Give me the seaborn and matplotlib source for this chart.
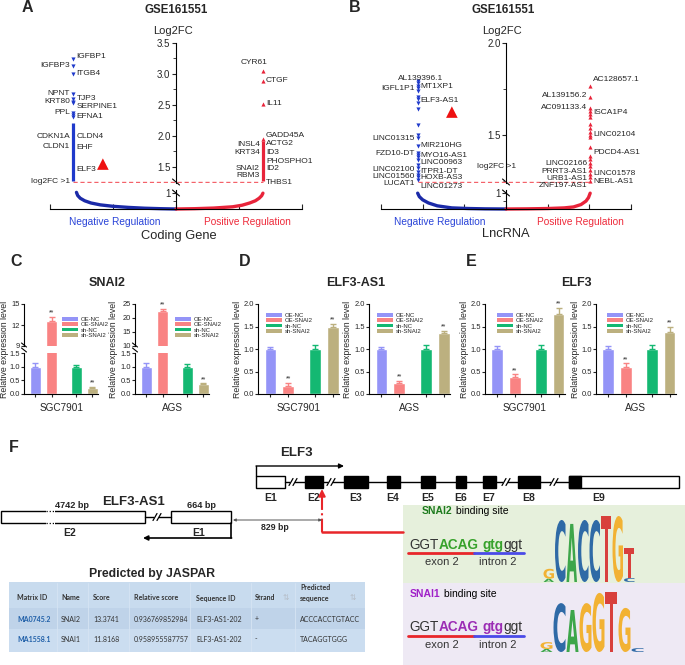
import numpy as np
import pandas as pd
import matplotlib
matplotlib.use("Agg")
import matplotlib.pyplot as plt
import seaborn as sns
from matplotlib.patches import Rectangle, PathPatch, Patch
from matplotlib.textpath import TextPath
from matplotlib.font_manager import FontProperties
from matplotlib.transforms import Affine2D

W, H = 685, 665

# ---------------- A: coding genes (GSE161551, log2FC) ----------------
a_neg_pts = [3.24, 3.13, 3.00, 2.67, 2.59, 2.55, 2.53, 2.37, 2.34, 2.31]
a_neg_dense = [1.27, 2.21]
a_neg_names = ["IGFBP1", "IGFBP3", "ITGB4", "NPNT", "TJP3", "KRT80", "SERPINE1",
               "PPL", "EFNA1", "CDKN1A", "CLDN4", "CLDN1", "EHF", "ELF3"]
a_neg_lab_y = [3.29, 3.13, 3.00, 2.68, 2.60, 2.55, 2.47, 2.37, 2.31, 1.99, 1.99, 1.83, 1.81, 1.45]
a_neg_side = ["R", "L", "R", "L", "R", "L", "R", "L", "R", "L", "R", "L", "R", "R"]
a_pos_pts = [3.05, 2.89, 2.52, 1.95]
a_pos_dense = [1.27, 1.91]
a_pos_names = ["CYR61", "CTGF", "IL11", "GADD45A", "INSL4", "ACTG2", "KRT34", "ID3",
               "PHOSPHO1", "SNAI2", "ID2", "RBM3", "THBS1"]
a_pos_lab_y = [3.18, 2.89, 2.52, 2.00, 1.855, 1.87, 1.73, 1.73, 1.58, 1.48, 1.47, 1.355, 1.24]
a_pos_side = ["T", "R", "R", "R", "L", "R", "L", "R", "R", "L", "R", "L", "R"]
a_cut = 1.26
a_curve_neg_x = [-1.58, -1.56, -1.52, -1.45, -1.35, -1.2, -1.0, -0.75, -0.5, -0.25, 0.0]
a_curve_neg_y = [1.05, 0.85, 0.68, 0.52, 0.38, 0.26, 0.17, 0.10, 0.05, 0.02, 0.0]
a_curve_pos_x = [0.0, 0.3, 0.6, 0.9, 1.05, 1.17, 1.26, 1.32, 1.36, 1.38]
a_curve_pos_y = [0.0, 0.02, 0.06, 0.14, 0.24, 0.38, 0.52, 0.68, 0.84, 1.0]

# ---------------- B: lncRNA ----------------
b_neg_pts = [1.793, 1.783, 1.766, 1.755, 1.739, 1.707, 1.696, 1.674, 1.641, 1.554, 1.50,
             1.484, 1.44, 1.402, 1.39, 1.38, 1.364, 1.337, 1.32, 1.30, 1.285, 1.27, 1.255]
b_neg_names = ["AL139396.1", "IGFL1P1", "MT1XP1", "ELF3-AS1", "LINC01315", "MIR210HG",
               "FZD10-DT", "MYO16-AS1", "LINC00963", "LINC02100", "ITPR1-DT", "LINC01560",
               "HOXB-AS3", "LUCAT1", "LINC01273"]
b_neg_lab_y = [1.806, 1.752, 1.761, 1.69, 1.48, 1.442, 1.397, 1.391, 1.348, 1.315, 1.304,
               1.273, 1.268, 1.237, 1.219]
b_neg_side = ["C", "L", "R", "R", "L", "R", "L", "R", "R", "L", "R", "L", "R", "L", "R"]
b_pos_pts = [1.766, 1.707, 1.647, 1.63, 1.614, 1.598, 1.56, 1.538, 1.516, 1.50, 1.489,
             1.435, 1.386, 1.37, 1.35, 1.33, 1.31, 1.29, 1.27, 1.25]
b_pos_names = ["AC128657.1", "AL139156.2", "AC091133.4", "ISCA1P4", "LINC02104", "PDCD4-AS1",
               "LINC02166", "PRRT3-AS1", "LINC01578", "URB1-AS1", "NEBL-AS1", "ZNF197-AS1"]
b_pos_lab_y = [1.80, 1.712, 1.648, 1.62, 1.505, 1.404, 1.346, 1.304, 1.292, 1.265, 1.246, 1.224]
b_pos_side = ["R", "L", "L", "R", "R", "R", "L", "L", "R", "L", "R", "L"]
b_cut = 1.245
b_curve_neg_x = [-2.12, -2.08, -2.0, -1.86, -1.65, -1.3, -0.9, -0.5, 0.0]
b_curve_neg_y = [1.0, 0.78, 0.58, 0.38, 0.2, 0.07, 0.03, 0.01, 0.0]
b_curve_pos_x = [0.0, 0.5, 1.0, 1.4, 1.62, 1.8, 1.92, 1.98, 2.02]
b_curve_pos_y = [0.0, 0.01, 0.03, 0.07, 0.13, 0.28, 0.5, 0.72, 1.0]

# ---------------- C-E: qPCR bars ----------------
bar_groups = ["OE-NC", "OE-SNAI2", "sh-NC", "sh-SNAI2"]
snai2_sgc, snai2_sgc_err = [1.0, 12.6, 1.0, 0.22], [0.15, 0.55, 0.06, 0.03]
snai2_ags, snai2_ags_err = [1.0, 22.4, 1.0, 0.35], [0.14, 0.8, 0.1, 0.04]
as1_sgc, as1_sgc_err = [1.0, 0.18, 1.0, 1.48], [0.05, 0.07, 0.08, 0.08]
as1_ags, as1_ags_err = [1.0, 0.25, 1.0, 1.35], [0.05, 0.04, 0.08, 0.06]
elf3_sgc, elf3_sgc_err = [1.0, 0.38, 1.0, 1.78], [0.06, 0.06, 0.08, 0.14]
elf3_ags, elf3_ags_err = [1.0, 0.59, 1.0, 1.38], [0.06, 0.09, 0.08, 0.11]
star_idx = [1, 3]

# ---------------- F ----------------
elf3_exons = ["E1", "E2", "E3", "E4", "E5", "E6", "E7", "E8", "E9"]
snai2_logo = [[("A", 0.1), ("G", 0.3)], [("C", 1.88)], [("A", 1.76)], [("C", 1.88)],
              [("C", 1.88)], [("T", 2.0)], [("G", 2.0)], [("C", 0.12), ("T", 0.9)]]
snai1_logo = [[("A", 0.1), ("G", 0.23)], [("C", 1.63)], [("A", 1.4)], [("G", 1.63)],
              [("G", 1.97)], [("T", 2.0)], [("G", 1.47)], [("C", 0.13)]]
jaspar_cols = ["Matrix ID", "Name", "Score", "Relative score", "Sequence ID", "Strand",
               "Predicted\nsequence"]
jaspar_rows = [["MA0745.2", "SNAI2", "13.3741", "0.936769852984", "ELF3-AS1-202", "+", "ACCCACCTGTACC"],
               ["MA1558.1", "SNAI1", "11.8168", "0.958955587757", "ELF3-AS1-202", "-", "TACAGGTGGG"]]

# ---------------- style ----------------
BLUE, RED, CBLUE = "#1f3acb", "#e8243a", "#1b2aa8"
bar_colors = ["#9494f7", "#f98383", "#14b872", "#bcb07f"]
GENE_FAM = ["Liberation Sans", "DejaVu Sans"]
GENE_FS = 6.0

sns.set_theme(style="ticks")
plt.rcParams["font.family"] = ["Liberation Sans", "DejaVu Sans"]
plt.rcParams["axes.linewidth"] = 0.8
plt.rcParams["axes.edgecolor"] = "black"

fig = plt.figure(figsize=(W / 100, H / 100), dpi=100)
ov = fig.add_axes([0, 0, 1, 1])
ov.set_xlim(0, W)
ov.set_ylim(H, 0)
ov.axis("off")


def px_axes(x0, y0, x1, y1):
    ax = fig.add_axes([x0 / W, 1 - y1 / H, (x1 - x0) / W, (y1 - y0) / H])
    ax.patch.set_alpha(0)
    return ax


def add_labels(ax, x, names, ys, sides):
    for n, y, s in zip(names, ys, sides):
        off, ha = {"L": ((-2.2, 0), "right"), "R": ((2.2, 0), "left"),
                   "T": ((3.0, 0), "right"), "C": ((2.0, 0), "center")}[s]
        ax.annotate(n, (x, y), xytext=off, textcoords="offset points", ha=ha, va="center",
                    fontsize=GENE_FS, family=GENE_FAM, annotation_clip=False)


def strip_panel(x0, x1, xlim, ylim, major, minor, nx, px, npts, ndense, ppts, pdense,
                nlab, plab, cut, cneg, cpos):
    up = px_axes(x0, 43, x1, 183)
    lo = px_axes(x0, 190, x1, 209)
    for ax in (up, lo):
        for s in ("top", "right"):
            ax.spines[s].set_visible(False)
        ax.spines["left"].set_position(("data", 0))
    up.spines["bottom"].set_visible(False)

    sns.scatterplot(x=np.full(len(npts), nx), y=npts, marker="v", color=BLUE, s=9,
                    linewidth=0, ax=up, legend=False)
    sns.scatterplot(x=np.full(len(ppts), px), y=ppts, marker="^", color=RED, s=9,
                    linewidth=0, ax=up, legend=False)
    if ndense:
        up.vlines(nx, *ndense, color=BLUE, lw=2.3)
    if pdense:
        up.vlines(px, *pdense, color=RED, lw=2.3)
    up.hlines(cut, nx, px, colors="#f4626a", linestyles=(0, (3, 2)), lw=1.0)
    add_labels(up, nx, *nlab)
    add_labels(up, px, *plab)
    up.set_xlim(*xlim)
    up.set_ylim(*ylim)
    up.set_xticks([])
    up.set_yticks(major)
    up.set_yticklabels([f"{v:.1f}" for v in major])
    up.set_yticks(minor, minor=True)
    up.tick_params(axis="y", which="major", length=3, width=0.8, labelsize=7, pad=1)
    up.tick_params(axis="y", which="minor", length=2, width=0.6)
    up.set_xlabel("")
    up.set_ylabel("")

    sns.lineplot(x=cneg[0], y=cneg[1], sort=False, estimator=None, color=CBLUE, lw=2.4, ax=lo)
    sns.lineplot(x=cpos[0], y=cpos[1], sort=False, estimator=None, color=RED, lw=2.4, ax=lo)
    for ln in lo.lines:
        ln.set_clip_on(False)
        ln.set_solid_capstyle("round")
    lo.set_xlim(*xlim)
    lo.set_ylim(0, 1.2)
    lo.set_yticks([1])
    lo.set_yticklabels(["1"])
    lo.set_yticks([0.5], minor=True)
    lo.set_xticks(np.arange(xlim[0], xlim[1] + 1))
    lo.set_xticklabels([])
    lo.tick_params(axis="x", direction="in", length=3.5, width=0.8)
    lo.tick_params(axis="y", which="major", length=3, width=0.8, labelsize=7, pad=1)
    lo.tick_params(axis="y", which="minor", length=2, width=0.6)
    lo.set_xlabel("")
    lo.set_ylabel("")
    return up, lo


# ---- A ----
upA, loA = strip_panel(50, 302, (-2, 2), (1.24, 3.5), [1.5, 2.0, 2.5, 3.0, 3.5],
                       [1.75, 2.25, 2.75, 3.25], -1.63, 1.38, a_neg_pts, a_neg_dense,
                       a_pos_pts, a_pos_dense, (a_neg_names, a_neg_lab_y, a_neg_side),
                       (a_pos_names, a_pos_lab_y, a_pos_side), a_cut,
                       (a_curve_neg_x, a_curve_neg_y), (a_curve_pos_x, a_curve_pos_y))
upA.annotate("log2FC >1", (-1.63, a_cut), xytext=(-2.2, 0), textcoords="offset points",
             ha="right", va="center", fontsize=GENE_FS, family=GENE_FAM, annotation_clip=False)
upA.annotate("\u25B2", (-1.63, 1.45), xytext=(21, 4.5), textcoords="offset points",
             ha="center", va="center", color="#ee1111", fontsize=11, family="DejaVu Sans")

# ---- B ----
upB, loB = strip_panel(381, 631, (-3, 3), (1.239, 2.0), [1.5, 2.0], [1.25, 1.75],
                       -2.12, 2.02, b_neg_pts, None, b_pos_pts, None,
                       (b_neg_names, b_neg_lab_y, b_neg_side),
                       (b_pos_names, b_pos_lab_y, b_pos_side), b_cut,
                       (b_curve_neg_x, b_curve_neg_y), (b_curve_pos_x, b_curve_pos_y))
upB.annotate("\u25B2", (-2.12, 1.69), xytext=(24.5, -8.6), textcoords="offset points",
             ha="center", va="center", color="#ee1111", fontsize=11, family="DejaVu Sans")
ov.text(497, 166, "log2FC >1", fontsize=GENE_FS, family=GENE_FAM, ha="center", va="center")

for sx in (176, 506):
    for yy in (182, 193):
        ov.plot([sx - 3.5, sx + 3.5], [yy - 3, yy + 3], color="black", lw=0.8)

for x, lab in ((27, "A"), (355, "B"), (16, "C"), (245, "D"), (471, "E"), (14, "F")):
    y = 8 if lab in "AB" else (262 if lab in "CDE" else 448)
    ov.text(x, y, lab, fontsize=11.5, fontweight="bold", ha="center", va="center")
ov.text(176, 10, "GSE161551", fontsize=8.3, fontweight="bold", ha="center", va="center")
ov.text(503, 10, "GSE161551", fontsize=8.3, fontweight="bold", ha="center", va="center")
ov.text(173, 31, "Log2FC", fontsize=8, ha="center", va="center")
ov.text(502, 31, "Log2FC", fontsize=8, ha="center", va="center")
ov.text(115, 222, "Negative Regulation", color="#2a44d8", fontsize=7.3, ha="center", va="center")
ov.text(247, 222, "Positive Regulation", color="#ee2b3b", fontsize=7.3, ha="center", va="center")
ov.text(440, 222, "Negative Regulation", color="#2a44d8", fontsize=7.3, ha="center", va="center")
ov.text(580, 222, "Positive Regulation", color="#ee2b3b", fontsize=7.3, ha="center", va="center")
ov.text(179, 236, "Coding Gene", fontsize=9.3, ha="center", va="center")
ov.text(506, 234, "LncRNA", fontsize=9.3, ha="center", va="center")

# ---------------- bar panels ----------------
bar_pos = [0, 1, 2.5, 3.5]


def bars(ax, vals, errs):
    df = pd.DataFrame({"pos": bar_pos, "val": vals, "grp": bar_groups})
    sns.barplot(data=df, x="pos", y="val", hue="grp", hue_order=bar_groups,
                palette=bar_colors, native_scale=True, dodge=False, width=0.66,
                saturation=1, errorbar=None, legend=False, ax=ax)
    for p, v, e, c in zip(bar_pos, vals, errs, bar_colors):
        ax.errorbar(p, v, yerr=[[0], [e]], fmt="none", ecolor=c, elinewidth=1,
                    capsize=2.2, capthick=1)
    for i in star_idx:
        ax.annotate("**", (bar_pos[i], vals[i] + errs[i]), xytext=(0, 0.2),
                    textcoords="offset points", ha="center", va="bottom", fontsize=5,
                    annotation_clip=True)


def fmt_bar(ax, ylim, ticks, labels, bottom=True, xlabel=""):
    for s in ("top", "right"):
        ax.spines[s].set_visible(False)
    ax.set_xlim(-0.7, 3.85)
    ax.set_ylim(*ylim)
    ax.set_yticks(ticks)
    ax.set_yticklabels(labels)
    ax.tick_params(axis="y", length=2.2, width=0.8, labelsize=5.4, pad=0.8)
    ax.set_ylabel("")
    if bottom:
        ax.set_xticks(bar_pos)
        ax.set_xticklabels([])
        ax.tick_params(axis="x", length=2, width=0.8)
        ax.set_xlabel(xlabel, fontsize=7.2, labelpad=1)
    else:
        ax.spines["bottom"].set_visible(False)
        ax.set_xticks([])
        ax.set_xlabel("")


def add_legend(ax, x, y):
    handles = [Patch(facecolor=c, edgecolor="none", label=g) for g, c in zip(bar_groups, bar_colors)]
    ax.legend(handles=handles, loc="upper left", bbox_to_anchor=(x / W, 1 - y / H),
              bbox_transform=fig.transFigure, frameon=False, fontsize=4.3,
              handlelength=2.7, handleheight=0.6, labelspacing=0.05, handletextpad=0.4,
              borderpad=0, borderaxespad=0)


lo_ticks = [0.0, 0.5, 1.0, 1.5]
d_ticks = [0.0, 0.5, 1.0, 1.5, 2.0]

# C (broken axis)
for x0, vals, errs, top_lim, top_ticks, xl, lg in (
        (24, snai2_sgc, snai2_sgc_err, (9, 15), [9, 12, 15], "SGC7901", 62),
        (135, snai2_ags, snai2_ags_err, (10, 25), [10, 15, 20, 25], "AGS", 175)):
    sp = 16.3
    lo = px_axes(x0, 353, x0 + 4.55 * sp, 394)
    bars(lo, vals, errs)
    fmt_bar(lo, (0, 1.5), lo_ticks, [f"{v:.1f}" for v in lo_ticks], True, xl)
    hi = px_axes(x0, 304, x0 + 4.55 * sp, 346)
    bars(hi, vals, errs)
    fmt_bar(hi, top_lim, top_ticks, [str(v) for v in top_ticks], False)
    add_legend(hi, lg, 317)
    for yy in (345, 350):
        ov.plot([x0 - 2.5, x0 + 2.5], [yy - 2, yy + 2], color="black", lw=0.8)

# D, E
for x0, sp, vals, errs, xl, lg in (
        (258, 17.8, as1_sgc, as1_sgc_err, "SGC7901", 266),
        (369, 17.8, as1_ags, as1_ags_err, "AGS", 377),
        (485, 17.5, elf3_sgc, elf3_sgc_err, "SGC7901", 497),
        (596, 17.5, elf3_ags, elf3_ags_err, "AGS", 607)):
    ax = px_axes(x0, 304, x0 + 4.55 * sp, 394)
    bars(ax, vals, errs)
    fmt_bar(ax, (0, 2.0), d_ticks, [f"{v:.1f}" for v in d_ticks], True, xl)
    add_legend(ax, lg, 313)

for x in (5, 114, 238, 348, 465, 576):
    ov.text(x, 349, "Relative expression level", rotation=90, fontsize=6.3,
            ha="center", va="center")
ov.text(107, 283, "SNAI2", fontsize=9, fontweight="bold", ha="center", va="center")
ov.text(356, 283, "ELF3-AS1", fontsize=9, fontweight="bold", ha="center", va="center")
ov.text(576, 283, "ELF3", fontsize=9, fontweight="bold", ha="center", va="center")

# ---------------- F: gene structure ----------------
ex_x0 = [256, 305, 344, 387, 421, 456, 483, 518, 569]
ex_x1 = [285, 323, 368, 400, 435, 466, 496, 540, 679]
ex_lab_x = [271, 314, 356, 393, 428, 461, 489, 529, 599]
ey0, ey1 = 476, 488
ov.plot([285, 569], [482, 482], color="black", lw=1)
for i, (a, b) in enumerate(zip(ex_x0, ex_x1)):
    if i == 0:
        ov.add_patch(Rectangle((a, ey0), b - a, ey1 - ey0, fc="white", ec="black", lw=1))
    elif i == 8:
        ov.add_patch(Rectangle((a, ey0), b - a, ey1 - ey0, fc="white", ec="black", lw=1))
        ov.add_patch(Rectangle((a, ey0), 12, ey1 - ey0, fc="black", ec="black", lw=1))
    else:
        ov.add_patch(Rectangle((a, ey0), b - a, ey1 - ey0, fc="black", ec="black", lw=1))
    ov.text(ex_lab_x[i], 498, elf3_exons[i], fontsize=7.5, fontweight="bold",
            ha="center", va="center")


def break_mark(x, y):
    ov.add_patch(Rectangle((x - 2.5, y - 1.5), 5, 3, fc="white", ec="none", zorder=3))
    for dx in (-2, 2):
        ov.plot([x + dx - 2, x + dx + 2], [y + 3.5, y - 3.5], color="black", lw=0.9, zorder=4)


for bx in (293, 331, 506, 554):
    break_mark(bx, 482)
ov.plot([256, 256], [476, 466], color="black", lw=1)
ov.annotate("", xy=(344, 466), xytext=(256, 466),
            arrowprops=dict(arrowstyle="-|>", color="black", lw=1, mutation_scale=7,
                            shrinkA=0, shrinkB=0))
ov.text(296, 453, "ELF3", fontsize=9.5, fontweight="bold", ha="center", va="center")

# ELF3-AS1
ov.add_patch(Rectangle((1, 511), 144, 12, fc="white", ec="black", lw=1))
ov.add_patch(Rectangle((171, 511), 60, 12, fc="white", ec="black", lw=1))
ov.add_patch(Rectangle((46, 509), 9, 16, fc="white", ec="none", zorder=3))
for yy in (511, 523):
    ov.plot([46, 55], [yy, yy], color="black", lw=0.9, ls=(0, (1, 1.5)), zorder=4)
ov.plot([145, 171], [517, 517], color="black", lw=1)
break_mark(157, 517)
ov.plot([231, 231], [523, 538], color="black", lw=1.2)
ov.annotate("", xy=(143, 538), xytext=(231.6, 538),
            arrowprops=dict(arrowstyle="-|>", color="black", lw=1.2, mutation_scale=7,
                            shrinkA=0, shrinkB=0))
ov.annotate("", xy=(233, 520), xytext=(322, 520),
            arrowprops=dict(arrowstyle="<|-|>", color="#555555", lw=0.7, mutation_scale=4,
                            shrinkA=0, shrinkB=0))
ov.text(72, 506, "4742 bp", fontsize=6.6, fontweight="bold", ha="center", va="center")
ov.text(134, 502, "ELF3-AS1", fontsize=9.5, fontweight="bold", ha="center", va="center")
ov.text(201, 506, "664 bp", fontsize=6.6, fontweight="bold", ha="center", va="center")
ov.text(70, 533, "E2", fontsize=7.5, fontweight="bold", ha="center", va="center")
ov.text(199, 533, "E1", fontsize=7.5, fontweight="bold", ha="center", va="center")
ov.text(275, 527, "829 bp", fontsize=6.3, fontweight="bold", ha="center", va="center")

# red pointer
ov.plot([322, 322], [532, 497], color="#e8262a", lw=1.5, ls="-.")
ov.annotate("", xy=(322, 489), xytext=(322, 499),
            arrowprops=dict(arrowstyle="-|>", color="#e8262a", lw=1.4, mutation_scale=10,
                            shrinkA=0, shrinkB=0))
ov.plot([322, 403], [532, 532], color="#e8262a", lw=1.8)

# binding site boxes
ov.add_patch(Rectangle((403, 505), 282, 78, fc="#e6f0dc", ec="none", zorder=0))
ov.add_patch(Rectangle((403, 583), 282, 82, fc="#eee9f4", ec="none", zorder=0))


def rainbow(x, y, pieces, size):
    t = ov.text(x, y, pieces[0][0], color=pieces[0][1], fontweight=pieces[0][2],
                fontsize=size, ha="left", va="center")
    for s, c, w, off in pieces[1:]:
        t = ov.annotate(s, xy=(1, 0), xycoords=t, xytext=(off, 0), textcoords="offset points",
                        va="bottom", ha="left", color=c, fontweight=w, fontsize=size)
    return t


GRAY = "#333333"
for (name, col, col_seq, ty, sy, uy, ly, tx) in (
        ("SNAI2", "#1e7b1e", "#37a22b", 511, 545, 553, 562, 422),
        ("SNAI1", "#a020c8", "#9b2db4", 594, 627, 636, 645, 410)):
    rainbow(tx, ty, [(name, col, "bold"), (" binding site", "black", "normal", 0)], 7.5)
    rainbow(409, sy, [("GGT", GRAY, "normal"), ("ACAG", col_seq, "bold", 0),
                      ("gtg", col_seq, "bold", 3.2), ("ggt", GRAY, "normal", 0)], 9.8)
    ov.plot([408, 474], [uy, uy], color="#e8262a", lw=2)
    ov.plot([474, 524], [uy, uy], color="#4a4ae8", lw=2)
    ov.text(442, ly, "exon 2", fontsize=8, color=GRAY, ha="center", va="center")
    ov.text(498, ly, "intron 2", fontsize=8, color=GRAY, ha="center", va="center")

LOGO_COL = {"A": "#3da64a", "C": "#2f6aa6", "G": "#f2b233", "T": "#d8403c"}
logo_fp = FontProperties(family="DejaVu Sans", weight="bold")


def draw_letter(ch, x0, x1, ybot, h):
    tp = TextPath((0, 0), ch, size=1, prop=logo_fp)
    bb = tp.get_extents()
    tr = (Affine2D().translate(-bb.x0, -bb.y0)
          .scale((x1 - x0) / bb.width, -h / bb.height).translate(x0, ybot))
    ov.add_patch(PathPatch(tr.transform_path(tp), fc=LOGO_COL[ch], ec="none", zorder=2))


def draw_logo(stacks, x_start, col_w, base, px_per_bit):
    for i, stack in enumerate(stacks):
        yb = base
        for ch, bits in stack:
            h = bits * px_per_bit
            draw_letter(ch, x_start + i * col_w + 0.5, x_start + (i + 1) * col_w - 0.5, yb, h)
            yb -= h


draw_logo(snai2_logo, 543, 11.5, 582, 33)
draw_logo(snai1_logo, 540, 13, 652, 30)

# ---------------- JASPAR table ----------------
ov.text(152, 574, "Predicted by JASPAR", fontsize=8.8, fontweight="bold", ha="center", va="center")
ov.add_patch(Rectangle((9, 582), 356, 26, fc="#c8dbee", ec="none"))
ov.add_patch(Rectangle((9, 608), 356, 21, fc="#bfd3e9", ec="none"))
ov.add_patch(Rectangle((9, 629), 356, 23, fc="#cbddf0", ec="none"))
for vx in (57, 88, 129, 190, 251, 295):
    ov.plot([vx, vx], [583, 651], color="#d6e4f3", lw=0.6)
col_x = [17, 61, 93, 134, 196, 255, 300]
TFONT = ["Lato", "DejaVu Sans"]
for cx, c in zip(col_x, jaspar_cols):
    ov.text(cx, 593 if "\n" in c else 598, c, fontsize=5, fontweight="bold", family=TFONT,
            color="#333333", ha="left", va="center", linespacing=1.6)
for sx in (286, 353):
    ov.text(sx, 598, "\u21C5", fontsize=5.5, color="#b5bcc6", family="DejaVu Sans",
            ha="center", va="center")
for ry, row in zip((619, 639), jaspar_rows):
    for j, (cx, v) in enumerate(zip(col_x, row)):
        ov.text(cx, ry, v, fontsize=5, family=TFONT, ha="left", va="center",
                color="#1f5fa8" if j == 0 else "#333333",
                fontweight="bold" if j == 0 else "normal")

fig.savefig("out.png", dpi=100)
